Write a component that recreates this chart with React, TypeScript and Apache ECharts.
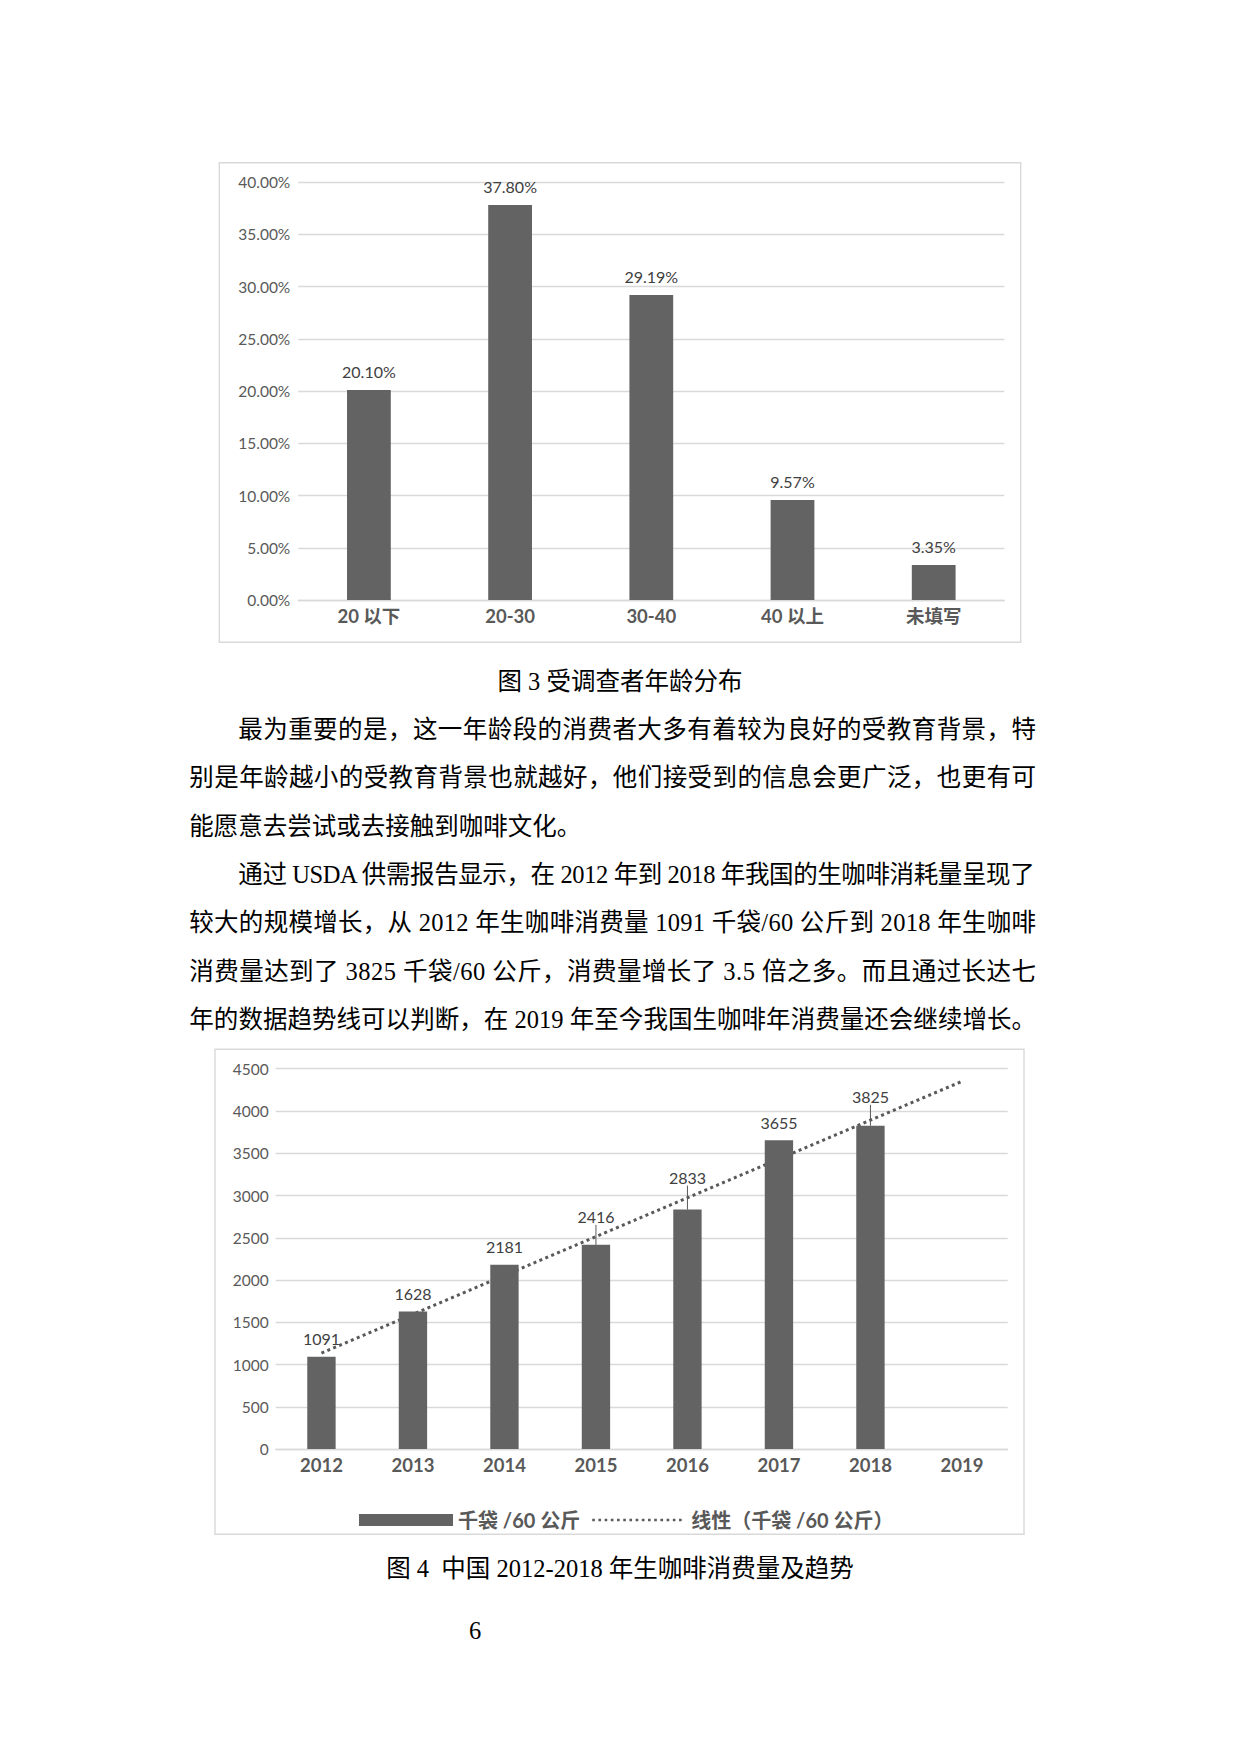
import React, { useEffect, useRef } from "react";
import * as echarts from "echarts";

// ---------- data: chart 1 (age distribution) ----------
const ageCategories = ["20 以下", "20-30", "30-40", "40 以上", "未填写"];
const ageShares = [20.1, 37.8, 29.19, 9.57, 3.35];
const ageAxisMin = 0;
const ageAxisMax = 40;
const ageAxisStep = 5;

// ---------- data: chart 2 (green coffee consumption) ----------
const years = ["2012", "2013", "2014", "2015", "2016", "2017", "2018", "2019"];
const consumption = [1091, 1628, 2181, 2416, 2833, 3655, 3825];
// dotted linear trend line, read at its two ends (2012 and 2019)
const trendStart = 1135;
const trendEnd = 4350;
const consAxisMin = 0;
const consAxisMax = 4500;
const consAxisStep = 500;

const barSeriesName = "千袋 /60 公斤";
const trendSeriesName = "线性（千袋 /60 公斤）";

// ---------- page text ----------
const caption3 = "图 3 受调查者年龄分布";
const caption4 = "图 4  中国 2012-2018 年生咖啡消费量及趋势";
const pageNumber = "6";
const bodyLines = [
  { text: "最为重要的是，这一年龄段的消费者大多有着较为良好的受教育背景，特", indent: true, justify: true },
  { text: "别是年龄越小的受教育背景也就越好，他们接受到的信息会更广泛，也更有可", indent: false, justify: true },
  { text: "能愿意去尝试或去接触到咖啡文化。", indent: false, justify: false },
  { text: "通过 USDA 供需报告显示，在 2012 年到 2018 年我国的生咖啡消耗量呈现了", indent: true, justify: true },
  { text: "较大的规模增长，从 2012 年生咖啡消费量 1091 千袋/60 公斤到 2018 年生咖啡", indent: false, justify: true },
  { text: "消费量达到了 3825 千袋/60 公斤，消费量增长了 3.5 倍之多。而且通过长达七", indent: false, justify: true },
  { text: "年的数据趋势线可以判断，在 2019 年至今我国生咖啡年消费量还会继续增长。", indent: false, justify: true },
];

// label offsets (Excel moved labels with leader lines), by data index
const raisedLabelShift: Record<number, number> = { 3: -10, 4: -14, 6: -11 };

const chartFont = "Lato, 'Noto Sans CJK SC', sans-serif";
const bodyFont = "'Liberation Serif', 'Noto Sans CJK SC', serif";
const BODY_SIZE = 24.5;
const TEXT_LEFT = 189.3;
const TEXT_RIGHT = 1036;
const INDENT = 49;

const GRID_COLOR = "#d9d9d9";
const LABEL_COLOR = "#595959";
const BAR_COLOR = "#636363";

// dotted legend icon (94 x 12 box, small square dots along the middle)
function dottedIconPath(): string {
  let d = "path://M0,0 M94,12";
  for (let x = 0; x + 2.6 <= 94; x += 6.2) {
    d += ` M${x.toFixed(1)},4.7h2.6v2.6h-2.6z`;
  }
  return d;
}

let measureCtx: CanvasRenderingContext2D | null = null;
function measure(text: string, font: string): number {
  if (!measureCtx) {
    const c = document.createElement("canvas");
    measureCtx = c.getContext("2d");
  }
  if (!measureCtx) return 0;
  measureCtx.font = font;
  return measureCtx.measureText(text).width;
}

function buildOption() {
  const trendData = years.map((_, i) =>
    i === 0 ? trendStart : i === years.length - 1 ? trendEnd : null
  );
  const consData = consumption.map((v, i) =>
    raisedLabelShift[i] !== undefined
      ? { value: v, labelLine: { show: true, lineStyle: { color: LABEL_COLOR, width: 1 } } }
      : v
  );

  return {
    animation: false,
    backgroundColor: "#ffffff",
    textStyle: { fontFamily: chartFont },
    grid: [
      { left: 298.3, top: 182, width: 706, height: 418 },
      { left: 275.7, top: 1068.7, width: 732, height: 380.4 },
    ],
    xAxis: [
      {
        gridIndex: 0,
        type: "category",
        data: ageCategories,
        axisTick: { show: false },
        axisLine: { show: true, lineStyle: { color: GRID_COLOR, width: 1.3 } },
        axisLabel: {
          margin: 7,
          fontSize: 18.5,
          fontWeight: "bold",
          color: LABEL_COLOR,
          fontFamily: chartFont,
        },
      },
      {
        gridIndex: 1,
        type: "category",
        data: years,
        axisTick: { show: false },
        axisLine: { show: true, lineStyle: { color: GRID_COLOR, width: 1.3 } },
        axisLabel: {
          margin: 7,
          fontSize: 18.5,
          fontWeight: "bold",
          color: LABEL_COLOR,
          fontFamily: chartFont,
        },
      },
    ],
    yAxis: [
      {
        gridIndex: 0,
        type: "value",
        min: ageAxisMin,
        max: ageAxisMax,
        interval: ageAxisStep,
        axisLine: { show: false },
        axisTick: { show: false },
        splitLine: { lineStyle: { color: GRID_COLOR, width: 1.3 } },
        axisLabel: {
          margin: 8,
          fontSize: 15.5,
          color: LABEL_COLOR,
          fontFamily: chartFont,
          formatter: (v: number) => v.toFixed(2) + "%",
        },
      },
      {
        gridIndex: 1,
        type: "value",
        min: consAxisMin,
        max: consAxisMax,
        interval: consAxisStep,
        axisLine: { show: false },
        axisTick: { show: false },
        splitLine: { lineStyle: { color: GRID_COLOR, width: 1.3 } },
        axisLabel: {
          margin: 7,
          fontSize: 15.5,
          color: LABEL_COLOR,
          fontFamily: chartFont,
          formatter: (v: number) => String(v),
        },
      },
    ],
    legend: {
      data: [
        { name: barSeriesName, icon: "rect" },
        { name: trendSeriesName, icon: dottedIconPath() },
      ],
      left: 354,
      top: 1505,
      itemWidth: 94,
      itemHeight: 12,
      itemGap: 12,
      selectedMode: false,
      textStyle: {
        fontSize: 20,
        fontWeight: "bold",
        color: LABEL_COLOR,
        fontFamily: chartFont,
      },
    },
    series: [
      {
        type: "bar",
        xAxisIndex: 0,
        yAxisIndex: 0,
        data: ageShares,
        barWidth: "31%",
        itemStyle: { color: BAR_COLOR },
        label: {
          show: true,
          position: "top",
          distance: 10,
          fontSize: 16,
          color: "#404040",
          fontFamily: chartFont,
          formatter: (p: any) => Number(p.value).toFixed(2) + "%",
        },
      },
      {
        type: "line",
        name: trendSeriesName,
        xAxisIndex: 1,
        yAxisIndex: 1,
        data: trendData,
        connectNulls: true,
        symbol: "none",
        z: 1,
        lineStyle: { color: LABEL_COLOR, width: 3, type: [3, 3.4] },
        itemStyle: { color: LABEL_COLOR },
      },
      {
        type: "bar",
        name: barSeriesName,
        xAxisIndex: 1,
        yAxisIndex: 1,
        data: consData,
        barWidth: "31%",
        z: 2,
        itemStyle: { color: BAR_COLOR },
        label: {
          show: true,
          position: "top",
          distance: 10,
          fontSize: 16,
          color: "#404040",
          fontFamily: chartFont,
        },
        labelLine: { show: false, lineStyle: { color: LABEL_COLOR, width: 1 } },
        labelLayout: (p: any) => {
          const dy = raisedLabelShift[p.dataIndex];
          return dy !== undefined ? { dy } : {};
        },
      },
    ],
    graphic: [
      {
        type: "rect",
        z: -10,
        silent: true,
        shape: { x: 219.3, y: 162.7, width: 801.4, height: 479.6 },
        style: { fill: "none", stroke: GRID_COLOR, lineWidth: 1.4 },
      },
      {
        type: "rect",
        z: -10,
        silent: true,
        shape: { x: 215, y: 1049.3, width: 809, height: 485 },
        style: { fill: "none", stroke: GRID_COLOR, lineWidth: 1.4 },
      },
    ],
  };
}

function TextLine(props: { text: string; cy: number; indent: boolean; justify: boolean }) {
  const { text, cy, indent, justify } = props;
  const left = TEXT_LEFT + (indent ? INDENT : 0);
  const target = TEXT_RIGHT - left;
  let spacing = 0;
  if (justify) {
    const w = measure(text, `${BODY_SIZE}px ${bodyFont}`);
    const n = Array.from(text).length;
    if (w > 0 && n > 1) spacing = (target - w) / (n - 1);
  }
  return (
    <div
      style={{
        position: "absolute",
        left,
        top: cy - 20,
        height: 40,
        lineHeight: "40px",
        fontSize: BODY_SIZE,
        fontFamily: bodyFont,
        color: "#000",
        whiteSpace: "pre",
        letterSpacing: spacing ? `${spacing}px` : undefined,
      }}
    >
      {text}
    </div>
  );
}

function Centered(props: { text: string; cy: number; cx?: number }) {
  const cx = props.cx ?? 620;
  return (
    <div
      style={{
        position: "absolute",
        left: cx - 400,
        width: 800,
        top: props.cy - 20,
        height: 40,
        lineHeight: "40px",
        textAlign: "center",
        fontSize: BODY_SIZE,
        fontFamily: bodyFont,
        color: "#000",
        whiteSpace: "pre",
      }}
    >
      {props.text}
    </div>
  );
}

export default function App() {
  const ref = useRef<HTMLDivElement>(null);
  useEffect(() => {
    if (!ref.current) return;
    const chart = echarts.init(ref.current, null, { renderer: "svg" });
    chart.setOption(buildOption() as any);
    return () => chart.dispose();
  }, []);

  return (
    <div
      style={{
        position: "absolute",
        left: 0,
        top: 0,
        width: 1240,
        height: 1754,
        background: "#ffffff",
        overflow: "hidden",
      }}
    >
      <div ref={ref} style={{ position: "absolute", left: 0, top: 0, width: 1240, height: 1754 }} />
      <Centered text={caption3} cy={681.7} />
      {bodyLines.map((l, i) => (
        <TextLine key={i} text={l.text} cy={730 + i * 48.3} indent={l.indent} justify={l.justify} />
      ))}
      <Centered text={caption4} cy={1568.5} />
      <Centered text={pageNumber} cy={1631} cx={475} />
    </div>
  );
}
